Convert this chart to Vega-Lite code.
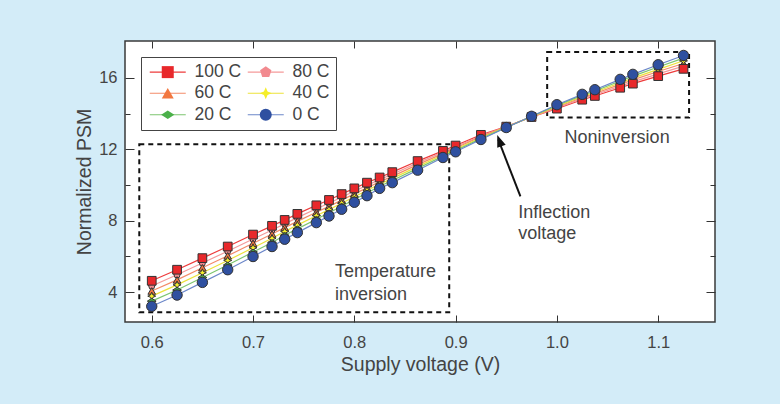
{
  "$schema": "https://vega.github.io/schema/vega-lite/v6.json",
  "width": 590,
  "height": 281,
  "autosize": {"type": "none"},
  "padding": {"left": 125, "top": 41, "right": 65, "bottom": 82},
  "background": "#d3ecf8",
  "config": {
    "font": "Liberation Sans",
    "view": {"stroke": "#3a3a3a", "strokeWidth": 1.5, "fill": "white"},
    "axis": {"domain": false, "grid": false, "tickColor": "#333", "tickWidth": 1, "labelColor": "#444", "labelFont": "Liberation Sans", "labelFontSize": 16.5, "titleColor": "#444", "titleFont": "Liberation Sans", "titleFontWeight": "normal", "titleFontSize": 19.5, "labelFlush": false, "labelOverlap": false}
  },
  "datasets": {
    "psm": [
      {"V": 0.6, "100 C": 4.63, "80 C": 4.34, "60 C": 4.06, "40 C": 3.77, "20 C": 3.49, "0 C": 3.20},
      {"V": 0.625, "100 C": 5.25, "80 C": 4.97, "60 C": 4.68, "40 C": 4.40, "20 C": 4.11, "0 C": 3.83},
      {"V": 0.65, "100 C": 5.90, "80 C": 5.63, "60 C": 5.36, "40 C": 5.08, "20 C": 4.81, "0 C": 4.54},
      {"V": 0.675, "100 C": 6.55, "80 C": 6.29, "60 C": 6.03, "40 C": 5.77, "20 C": 5.51, "0 C": 5.25},
      {"V": 0.7, "100 C": 7.22, "80 C": 6.97, "60 C": 6.73, "40 C": 6.48, "20 C": 6.24, "0 C": 5.99},
      {"V": 0.71875, "100 C": 7.71, "80 C": 7.48, "60 C": 7.25, "40 C": 7.01, "20 C": 6.78, "0 C": 6.55},
      {"V": 0.73125, "100 C": 8.04, "80 C": 7.82, "60 C": 7.61, "40 C": 7.39, "20 C": 7.18, "0 C": 6.96},
      {"V": 0.74375, "100 C": 8.38, "80 C": 8.17, "60 C": 7.96, "40 C": 7.75, "20 C": 7.54, "0 C": 7.33},
      {"V": 0.7625, "100 C": 8.86, "80 C": 8.67, "60 C": 8.47, "40 C": 8.28, "20 C": 8.08, "0 C": 7.89},
      {"V": 0.775, "100 C": 9.16, "80 C": 8.98, "60 C": 8.80, "40 C": 8.62, "20 C": 8.44, "0 C": 8.26},
      {"V": 0.7875, "100 C": 9.49, "80 C": 9.32, "60 C": 9.15, "40 C": 8.98, "20 C": 8.81, "0 C": 8.64},
      {"V": 0.8, "100 C": 9.81, "80 C": 9.65, "60 C": 9.50, "40 C": 9.34, "20 C": 9.19, "0 C": 9.03},
      {"V": 0.8125, "100 C": 10.13, "80 C": 9.98, "60 C": 9.84, "40 C": 9.69, "20 C": 9.55, "0 C": 9.40},
      {"V": 0.825, "100 C": 10.42, "80 C": 10.30, "60 C": 10.18, "40 C": 10.05, "20 C": 9.93, "0 C": 9.81},
      {"V": 0.8375, "100 C": 10.72, "80 C": 10.60, "60 C": 10.48, "40 C": 10.37, "20 C": 10.25, "0 C": 10.13},
      {"V": 0.8625, "100 C": 11.34, "80 C": 11.24, "60 C": 11.14, "40 C": 11.03, "20 C": 10.93, "0 C": 10.83},
      {"V": 0.8875, "100 C": 11.91, "80 C": 11.84, "60 C": 11.76, "40 C": 11.69, "20 C": 11.61, "0 C": 11.54},
      {"V": 0.9, "100 C": 12.21, "80 C": 12.14, "60 C": 12.07, "40 C": 12.00, "20 C": 11.93, "0 C": 11.86},
      {"V": 0.925, "100 C": 12.81, "80 C": 12.76, "60 C": 12.71, "40 C": 12.65, "20 C": 12.60, "0 C": 12.55},
      {"V": 0.95, "100 C": 13.27, "80 C": 13.26, "60 C": 13.25, "40 C": 13.24, "20 C": 13.23, "0 C": 13.22},
      {"V": 0.975, "100 C": 13.81, "80 C": 13.82, "60 C": 13.83, "40 C": 13.83, "20 C": 13.84, "0 C": 13.85},
      {"V": 1.0, "100 C": 14.28, "80 C": 14.32, "60 C": 14.37, "40 C": 14.41, "20 C": 14.46, "0 C": 14.50},
      {"V": 1.025, "100 C": 14.78, "80 C": 14.84, "60 C": 14.90, "40 C": 14.96, "20 C": 15.02, "0 C": 15.08},
      {"V": 1.0375, "100 C": 14.99, "80 C": 15.06, "60 C": 15.13, "40 C": 15.20, "20 C": 15.27, "0 C": 15.34},
      {"V": 1.0625, "100 C": 15.45, "80 C": 15.54, "60 C": 15.64, "40 C": 15.73, "20 C": 15.83, "0 C": 15.92},
      {"V": 1.075, "100 C": 15.68, "80 C": 15.78, "60 C": 15.89, "40 C": 15.99, "20 C": 16.10, "0 C": 16.20},
      {"V": 1.1, "100 C": 16.10, "80 C": 16.23, "60 C": 16.36, "40 C": 16.48, "20 C": 16.61, "0 C": 16.74},
      {"V": 1.125, "100 C": 16.51, "80 C": 16.66, "60 C": 16.81, "40 C": 16.96, "20 C": 17.11, "0 C": 17.26}
    ]
  },
  "layer": [
    {
      "data": {"values": [
        {"x1": 0.5877, "x2": 0.8937, "y1": 2.86, "y2": 12.28},
        {"x1": 0.9904, "x2": 1.1305, "y1": 13.78, "y2": 17.46}
      ]},
      "mark": {"type": "rect", "fill": null, "stroke": "#111", "strokeWidth": 2, "strokeDash": [5, 4]},
      "encoding": {
        "x": {"field": "x1", "type": "quantitative", "scale": {"domain": [0.5736, 1.1561], "nice": false, "zero": false},
              "axis": {"orient": "top", "values": [0.6, 0.7, 0.8, 0.9, 1.0, 1.1], "labels": false, "tickSize": -7, "title": null}},
        "x2": {"field": "x2"},
        "y": {"field": "y1", "type": "quantitative", "scale": {"domain": [2.32, 18.07], "nice": false, "zero": false},
              "axis": {"orient": "right", "values": [4, 6, 8, 10, 12, 14, 16], "labels": false, "title": null,
                       "tickSize": {"condition": {"test": "datum.value % 4 === 0", "value": -9}, "value": -5}}},
        "y2": {"field": "y2"}
      }
    },
    {
      "data": {"name": "psm"},
      "transform": [{"fold": ["100 C", "80 C", "60 C", "40 C", "20 C", "0 C"], "as": ["TL", "PSM"]}],
      "mark": {"type": "line", "strokeWidth": 1.2},
      "encoding": {
        "x": {"field": "V", "type": "quantitative", "scale": {"domain": [0.5736, 1.1561], "nice": false, "zero": false},
              "axis": {"orient": "bottom", "values": [0.6, 0.7, 0.8, 0.9, 1.0, 1.1], "format": ".1f", "tickSize": -7, "labelPadding": 19, "title": "Supply voltage (V)", "titlePadding": 5}},
        "y": {"field": "PSM", "type": "quantitative", "scale": {"domain": [2.32, 18.07], "nice": false, "zero": false},
              "axis": {"orient": "left", "values": [4, 6, 8, 10, 12, 14, 16], "labelExpr": "datum.value % 4 === 0 ? datum.label : ''",
                       "tickSize": {"condition": {"test": "datum.value % 4 === 0", "value": -9}, "value": -5},
                       "labelPadding": 17, "title": "Normalized PSM", "titlePadding": 4}},
        "stroke": {"field": "TL", "type": "nominal", "sort": null,
                   "scale": {"range": ["#ee3b3b", "#f59a9a", "#f38b68", "#ece23a", "#7cc56f", "#6b87c9"]},
                   "legend": {"orient": "none", "legendX": 16, "legendY": 16, "columns": 2, "direction": "horizontal", "title": null,
                              "symbolType": "M-3,0L3,0", "symbolSize": 144, "symbolStrokeWidth": 1.2,
                              "labelFontSize": 17.5, "labelFont": "Liberation Sans", "labelOpacity": 0,
                              "padding": 6, "rowPadding": 2.5, "columnPadding": 3, "symbolOffset": 12, "labelOffset": 18,
                              "strokeColor": "#444", "cornerRadius": 0}}
      }
    },
    {
      "data": {"name": "psm"},
      "transform": [{"fold": ["80 C", "60 C", "40 C", "20 C", "100 C", "0 C"], "as": ["T", "PSM"]}],
      "mark": {"type": "point", "filled": true, "stroke": "#333", "strokeWidth": 1, "opacity": 1},
      "encoding": {
        "x": {"field": "V", "type": "quantitative", "scale": {"domain": [0.5736, 1.1561], "nice": false, "zero": false}, "axis": null},
        "y": {"field": "PSM", "type": "quantitative", "scale": {"domain": [2.32, 18.07], "nice": false, "zero": false}, "axis": null},
        "size": {"field": "T", "type": "nominal",
                 "scale": {"type": "ordinal", "domain": ["80 C", "60 C", "40 C", "20 C", "100 C", "0 C"], "range": [50, 58, 64, 64, 76, 108]},
                 "legend": null},
        "fill": {"field": "T", "type": "nominal",
                 "scale": {"domain": ["100 C", "80 C", "60 C", "40 C", "20 C", "0 C"], "range": ["#e8282b", "#f28a8f", "#f2773f", "#f5ee2a", "#4bb04a", "#2f50a0"]},
                 "legend": {"orient": "none", "legendX": 16, "legendY": 16, "columns": 2, "direction": "horizontal", "title": null,
                            "symbolSize": 144, "symbolStrokeColor": "#333", "symbolStrokeWidth": 1,
                            "labelFontSize": 17.5, "labelFont": "Liberation Sans", "labelColor": "#444",
                            "padding": 6, "rowPadding": 2.5, "columnPadding": 3, "symbolOffset": 12, "labelOffset": 18}},
        "shape": {"field": "T", "type": "nominal",
                  "scale": {"domain": ["100 C", "80 C", "60 C", "40 C", "20 C", "0 C"],
                            "range": ["square", "M0,-1L0.951,-0.309L0.588,0.809L-0.588,0.809L-0.951,-0.309Z", "triangle-up", "M0,-1L0.3,-0.3L1,0L0.3,0.3L0,1L-0.3,0.3L-1,0L-0.3,-0.3Z", "M-1.1,0L0,-0.7L1.1,0L0,0.7Z", "circle"]},
                  "legend": {"orient": "none", "legendX": 16, "legendY": 16, "columns": 2, "direction": "horizontal", "title": null,
                            "symbolSize": 144, "symbolStrokeColor": "#333", "symbolStrokeWidth": 1,
                            "labelFontSize": 17.5, "labelFont": "Liberation Sans", "labelColor": "#444",
                            "padding": 6, "rowPadding": 2.5, "columnPadding": 3, "symbolOffset": 12, "labelOffset": 18}}
      }
    },
    {
      "data": {"values": [
        {"x": 0.7809, "y": 4.84, "label": "Temperature"},
        {"x": 0.7809, "y": 3.57, "label": "inversion"},
        {"x": 0.9618, "y": 8.14, "label": "Inflection"},
        {"x": 0.9618, "y": 6.98, "label": "voltage"},
        {"x": 1.0076, "y": 12.37, "label": "Noninversion"}
      ]},
      "mark": {"type": "text", "align": "left", "baseline": "alphabetic", "fontSize": 18, "font": "Liberation Sans", "color": "#444"},
      "encoding": {
        "x": {"field": "x", "type": "quantitative", "scale": {"domain": [0.5736, 1.1561], "nice": false, "zero": false}, "axis": null},
        "y": {"field": "y", "type": "quantitative", "scale": {"domain": [2.32, 18.07], "nice": false, "zero": false}, "axis": null},
        "text": {"field": "label"}
      }
    },
    {
      "data": {"values": [{"x": 0.9640, "y": 9.36, "x2": 0.9421, "y2": 12.55}]},
      "mark": {"type": "rule", "color": "#111", "strokeWidth": 2},
      "encoding": {
        "x": {"field": "x", "type": "quantitative", "scale": {"domain": [0.5736, 1.1561], "nice": false, "zero": false}, "axis": null},
        "y": {"field": "y", "type": "quantitative", "scale": {"domain": [2.32, 18.07], "nice": false, "zero": false}, "axis": null},
        "x2": {"field": "x2"},
        "y2": {"field": "y2"}
      }
    },
    {
      "data": {"values": [{"x": 0.9411, "y": 12.80}]},
      "mark": {"type": "point", "filled": true, "color": "#111", "opacity": 1, "size": 144, "shape": "M0,0L0.75,2L-0.75,2Z", "angle": 339.3},
      "encoding": {
        "x": {"field": "x", "type": "quantitative", "scale": {"domain": [0.5736, 1.1561], "nice": false, "zero": false}, "axis": null},
        "y": {"field": "y", "type": "quantitative", "scale": {"domain": [2.32, 18.07], "nice": false, "zero": false}, "axis": null}
      }
    }
  ],
  "resolve": {"axis": {"x": "independent", "y": "independent"}}
}
